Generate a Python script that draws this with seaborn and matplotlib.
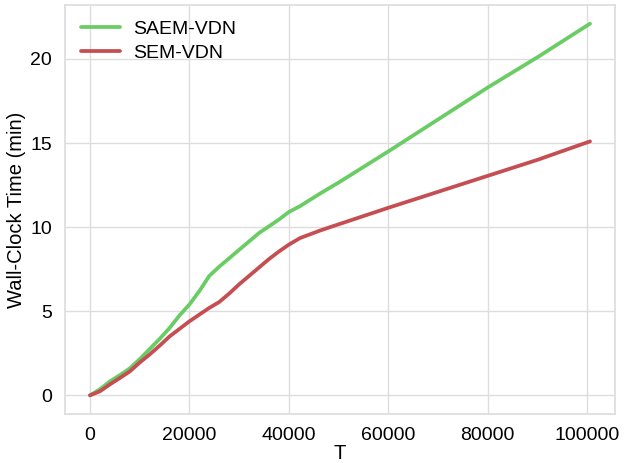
import matplotlib
matplotlib.use("Agg")
import matplotlib.pyplot as plt
import seaborn as sns
import pandas as pd

T_saem = [0, 2000, 4000, 6000, 8000, 10000, 12000, 14000, 16000, 18000, 20000, 22000, 24000,
          26000, 28000, 30000, 32000, 34000, 36000, 38000, 40000, 42250, 46300, 50000,
          60000, 70000, 80000, 90000, 100600]
saem = [0, 0.36, 0.83, 1.2, 1.6, 2.15, 2.75, 3.35, 4.0, 4.75, 5.4, 6.2, 7.1,
        7.65, 8.15, 8.65, 9.15, 9.65, 10.05, 10.45, 10.9, 11.25, 12.0, 12.65,
        14.5, 16.4, 18.3, 20.1, 22.1]

T_sem = [0, 2000, 4000, 6000, 8000, 10000, 12000, 14000, 16000, 18000, 20000, 22000, 24000,
         26000, 28000, 30000, 32000, 34000, 36000, 38000, 40000, 42250, 46300, 48300,
         60000, 70000, 80000, 90000, 100600]
sem = [0, 0.24, 0.65, 1.03, 1.42, 1.95, 2.43, 2.95, 3.5, 3.95, 4.4, 4.8, 5.2,
       5.55, 6.05, 6.6, 7.1, 7.6, 8.1, 8.55, 8.96, 9.35, 9.8, 10.0,
       11.15, 12.1, 13.05, 14.0, 15.1]

labels = ["SAEM-VDN", "SEM-VDN"]
colors = ["#6acc64", "#c44e52"]

df = pd.concat([
    pd.DataFrame({"T": T_saem, "Wall-Clock Time (min)": saem, "method": labels[0]}),
    pd.DataFrame({"T": T_sem, "Wall-Clock Time (min)": sem, "method": labels[1]}),
])

sns.set_theme(style="whitegrid")
plt.rcParams["font.family"] = ["Liberation Sans", "DejaVu Sans"]
plt.rcParams["text.color"] = "black"
plt.rcParams["axes.labelcolor"] = "black"

fig = plt.figure(figsize=(6.25, 4.63), dpi=100)
ax = fig.add_axes([0.104, 0.106, 0.88, 0.883])
sns.lineplot(data=df, x="T", y="Wall-Clock Time (min)", hue="method",
             palette=colors, linewidth=2.7, ax=ax, sort=False)

ax.set_xlabel("T", fontsize=14.5, labelpad=0, color="black")
ax.set_ylabel("Wall-Clock Time (min)", fontsize=14.5, labelpad=3, color="black")
ax.set_xticks([0, 20000, 40000, 60000, 80000, 100000])
ax.set_yticks([0, 5, 10, 15, 20])
ax.tick_params(labelsize=14, colors="black", pad=3.5)
for s in ax.spines.values():
    s.set_color("#dddddd")
ax.grid(color="#dddddd")
leg = ax.legend(loc="upper left", frameon=False, fontsize=14, handlelength=2.05,
                handletextpad=0.65, borderaxespad=0.4, labelspacing=0.3)
for t in leg.get_texts():
    t.set_color("black")
fig.savefig("out.png", dpi=100)
